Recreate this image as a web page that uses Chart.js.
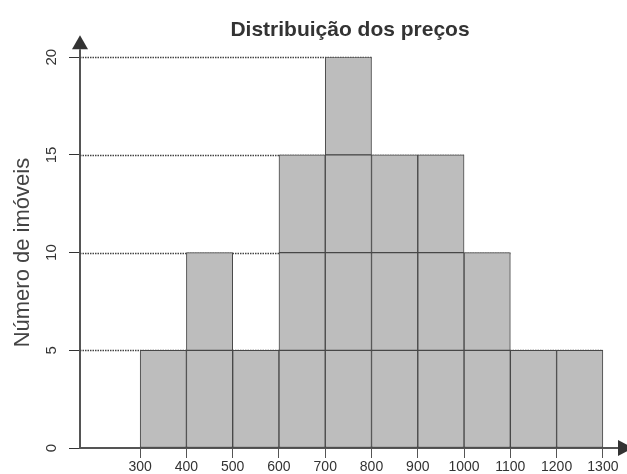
<!DOCTYPE html>
<html>
<head>
<meta charset="utf-8">
<script src="https://cdn.jsdelivr.net/npm/chart.js@4.4.1/dist/chart.umd.min.js"></script>
<style>
  body { margin: 0; background: #fff; }
  #wrap { width: 627px; height: 474px; }
</style>
</head>
<body>
<div id="wrap"><canvas id="myChart"></canvas></div>
<script>
// price classes (start of each class) and number of properties
const binStarts = [300, 400, 500, 600, 700, 800, 900, 1000, 1100, 1200];
const binSize = 100;
const counts = [5, 10, 5, 15, 20, 15, 15, 10, 5, 5];
const xTicks = [300, 400, 500, 600, 700, 800, 900, 1000, 1100, 1200, 1300];
const yTicks = [0, 5, 10, 15, 20];
const blockSize = 5; // the bars are drawn as stacked blocks of 5

const axisColor = "#555";
const textColor = "#333";
const fontFamily = "'Liberation Sans', Arial, sans-serif";

// one dataset per block layer
const layers = [];
for (let k = 1; k * blockSize <= Math.max(...counts); k++) {
  layers.push({
    data: binStarts.map((s, i) => ({
      x: s + binSize / 2,
      y: counts[i] >= k * blockSize ? blockSize : null
    })),
    backgroundColor: "#bdbdbd",
    borderColor: "#474747",
    borderWidth: 1,
    borderSkipped: false,
    barPercentage: 1,
    categoryPercentage: 1
  });
}

// dotted lines from the y axis to the last bar reaching each level
const levelLines = {
  id: "levelLines",
  beforeDatasetsDraw(chart) {
    const { ctx, chartArea, scales } = chart;
    ctx.save();
    ctx.strokeStyle = "#444";
    ctx.lineWidth = 1.5;
    ctx.setLineDash([1.5, 1]);
    for (const level of yTicks) {
      if (level === 0) continue;
      let end = null;
      binStarts.forEach((s, i) => {
        if (counts[i] >= level) end = s + binSize;
      });
      if (end === null) continue;
      const y = Math.round(scales.y.getPixelForValue(level)) + 0.5;
      ctx.beginPath();
      ctx.moveTo(chartArea.left, y);
      ctx.lineTo(scales.x.getPixelForValue(end), y);
      ctx.stroke();
    }
    ctx.restore();
  }
};

// rotated y tick labels and axis arrows
const axisExtras = {
  id: "axisExtras",
  afterDraw(chart) {
    const { ctx, chartArea, scales } = chart;
    ctx.save();
    ctx.fillStyle = textColor;
    ctx.font = "15px " + fontFamily;
    ctx.textAlign = "center";
    ctx.textBaseline = "middle";
    for (const v of yTicks) {
      ctx.save();
      ctx.translate(chartArea.left - 28, scales.y.getPixelForValue(v));
      ctx.rotate(-Math.PI / 2);
      ctx.fillText(String(v), 0, 0);
      ctx.restore();
    }

    const x0 = chartArea.left;
    const y0 = chartArea.bottom;
    ctx.strokeStyle = axisColor;
    ctx.fillStyle = "#333";
    ctx.lineWidth = 2;
    ctx.beginPath();
    ctx.moveTo(x0, chartArea.top);
    ctx.lineTo(x0, chartArea.top - 8);
    ctx.stroke();
    ctx.beginPath();
    ctx.moveTo(x0, chartArea.top - 22);
    ctx.lineTo(x0 - 8, chartArea.top - 8);
    ctx.lineTo(x0 + 8, chartArea.top - 8);
    ctx.closePath();
    ctx.fill();
    ctx.beginPath();
    ctx.moveTo(chartArea.right + 13, y0);
    ctx.lineTo(chartArea.right - 2, y0 - 8);
    ctx.lineTo(chartArea.right - 2, y0 + 8);
    ctx.closePath();
    ctx.fill();
    ctx.restore();
  }
};

const myChartRef = document.getElementById("myChart").getContext("2d");
new Chart(myChartRef, {
  type: "bar",
  data: { datasets: layers },
  plugins: [levelLines, axisExtras],
  options: {
    responsive: true,
    maintainAspectRatio: false,
    animation: false,
    layout: { padding: { left: 0, right: 7, top: 0, bottom: 0 } },
    plugins: {
      legend: { display: false },
      tooltip: { enabled: false },
      title: {
        display: true,
        text: "Distribuição dos preços",
        fullSize: false,
        color: textColor,
        font: { family: fontFamily, size: 21, weight: "bold" },
        padding: { top: 18, bottom: 14 }
      }
    },
    scales: {
      x: {
        type: "linear",
        stacked: true,
        offset: false,
        min: 170,
        max: 1337,
        afterBuildTicks: (axis) => {
          axis.ticks = xTicks.map((v) => ({ value: v }));
        },
        afterFit: (axis) => { axis.height = 26; },
        border: { color: axisColor, width: 2 },
        grid: { offset: false, drawOnChartArea: false, tickLength: 10, color: axisColor },
        ticks: {
          color: textColor,
          padding: 1,
          maxRotation: 0,
          autoSkip: false,
          callback: (v) => String(v),
          font: { family: fontFamily, size: 14 }
        }
      },
      y: {
        stacked: true,
        min: 0,
        max: 20,
        afterBuildTicks: (axis) => {
          axis.ticks = yTicks.map((v) => ({ value: v }));
        },
        afterFit: (axis) => { axis.width = 80; },
        border: { color: axisColor, width: 2 },
        grid: { drawOnChartArea: false, tickLength: 11, color: "#333" },
        ticks: { display: false },
        title: {
          display: true,
          text: "Número de imóveis",
          color: "#444",
          padding: { top: 10, bottom: 0 },
          font: { family: fontFamily, size: 22 }
        }
      }
    }
  }
});
</script>
</body>
</html>
